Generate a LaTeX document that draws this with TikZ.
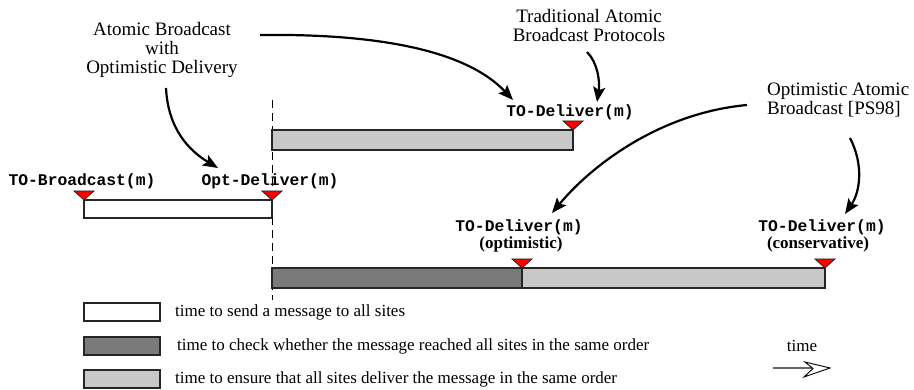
\documentclass[tikz,border=0pt]{standalone}
\usepackage{fontspec}
\setmainfont{Liberation Serif}
\setmonofont{Liberation Mono}
\usetikzlibrary{arrows.meta}
\definecolor{lgray}{HTML}{C8C8C8}
\definecolor{dgray}{HTML}{7A7A7A}
\begin{document}
\begin{tikzpicture}[x=1pt,y=-1pt,
  lab/.style={inner sep=0pt, align=center, font=\fontsize{19}{19}\selectfont},
  ttlab/.style={inner sep=0pt, font=\fontsize{16.3}{17}\selectfont\ttfamily\bfseries},
  bblab/.style={inner sep=0pt, font=\fontsize{17}{17}\selectfont\bfseries},
  leg/.style={inner sep=0pt, anchor=west, font=\fontsize{17}{17}\selectfont},
  bar/.style={draw=black!85, line width=1.1pt},
  curv/.style={line width=2.2pt, -{Stealth[length=15pt,width=12pt,inset=3pt]}},
  redtri/.pic={\draw[fill=red, draw=black!85, line width=0.8pt] (-10,-9)--(10,-9)--(0,0)--cycle;}
]
\useasboundingbox (0,0) rectangle (914,390);

% dashed reference line
\coordinate (dtop) at (272,100);
\coordinate (dbot) at (272,300);
\draw[dash pattern=on 8pt off 5pt, line width=1pt] (dtop) -- (dbot);

% bars
\draw[bar, fill=white] (84,200) rectangle (272,218);
\draw[bar, fill=lgray] (272,130) rectangle (573,150);
\draw[bar, fill=dgray] (272,268) rectangle (522,288);
\draw[bar, fill=lgray] (522,268) rectangle (825,288);

% markers
\pic at (84,200) {redtri};
\pic at (272,200) {redtri};
\pic at (573,130) {redtri};
\pic at (522,268) {redtri};
\pic at (825,268) {redtri};

% event labels
\node[ttlab] (tob) at (82,181) {TO-Broadcast(m)};
\node[ttlab] (optd) at (270,181) {Opt-Deliver(m)};
\node[ttlab] (tod1) at (570,112) {TO-Deliver(m)};
\node[ttlab] (tod2) at (519,227) {TO-Deliver(m)};
\node[bblab] (opt) at (521,244) {(optimistic)};
\node[ttlab] (tod3) at (822,227) {TO-Deliver(m)};
\node[bblab] (cons) at (818,244) {(conservative)};

% comment labels
\node[lab] (abod) at (162,50) {Atomic Broadcast\\with\\Optimistic Delivery};
\node[lab] (trad) at (589,26) {Traditional Atomic\\Broadcast Protocols};
\node[lab, align=left, anchor=west] (oab) at (767,100) {Optimistic Atomic\\Broadcast [PS98]};

% curved arrows
\coordinate (a1s) at (260,35);  \coordinate (a1e) at (513,100);
\coordinate (a2s) at (166,88);  \coordinate (a2e) at (218,168);
\coordinate (a3s) at (587,52);  \coordinate (a3e) at (597,102);
\coordinate (a4s) at (747,105); \coordinate (a4e) at (552,213);
\coordinate (a5s) at (850,138); \coordinate (a5e) at (845,214);
\draw[curv] (a1s) .. controls (420,33) and (480,65) .. (a1e);
\draw[curv] (a2s) .. controls (168,128) and (188,150) .. (a2e);
\draw[curv] (a3s) .. controls (598,63) and (600,82) .. (a3e);
\draw[curv] (a4s) .. controls (660,113) and (592,165) .. (a4e);
\draw[curv] (a5s) .. controls (864,165) and (860,192) .. (a5e);

% legend
\draw[bar, fill=white] (84,303) rectangle (160,321);
\draw[bar, fill=dgray] (84,337) rectangle (160,355);
\draw[bar, fill=lgray] (84,370) rectangle (160,388);
\node[leg] (l1) at (175,312) {time to send a message to all sites};
\node[leg] (l2) at (177,346) {time to check whether the message reached all sites in the same order};
\node[leg] (l3) at (175,379) {time to ensure that all sites deliver the message in the same order};

% time arrow
\node[leg, anchor=center] (timelab) at (802,346) {time};
\coordinate (ts) at (773,368);
\coordinate (te) at (812,368);
\draw[black!60, line width=1.5pt] (ts) -- (te);
\draw[fill=white, line width=0.9pt, line join=miter] (805,362) -- (830,368) -- (804,377) -- (813,368.5) -- cycle;
\end{tikzpicture}
\end{document}
